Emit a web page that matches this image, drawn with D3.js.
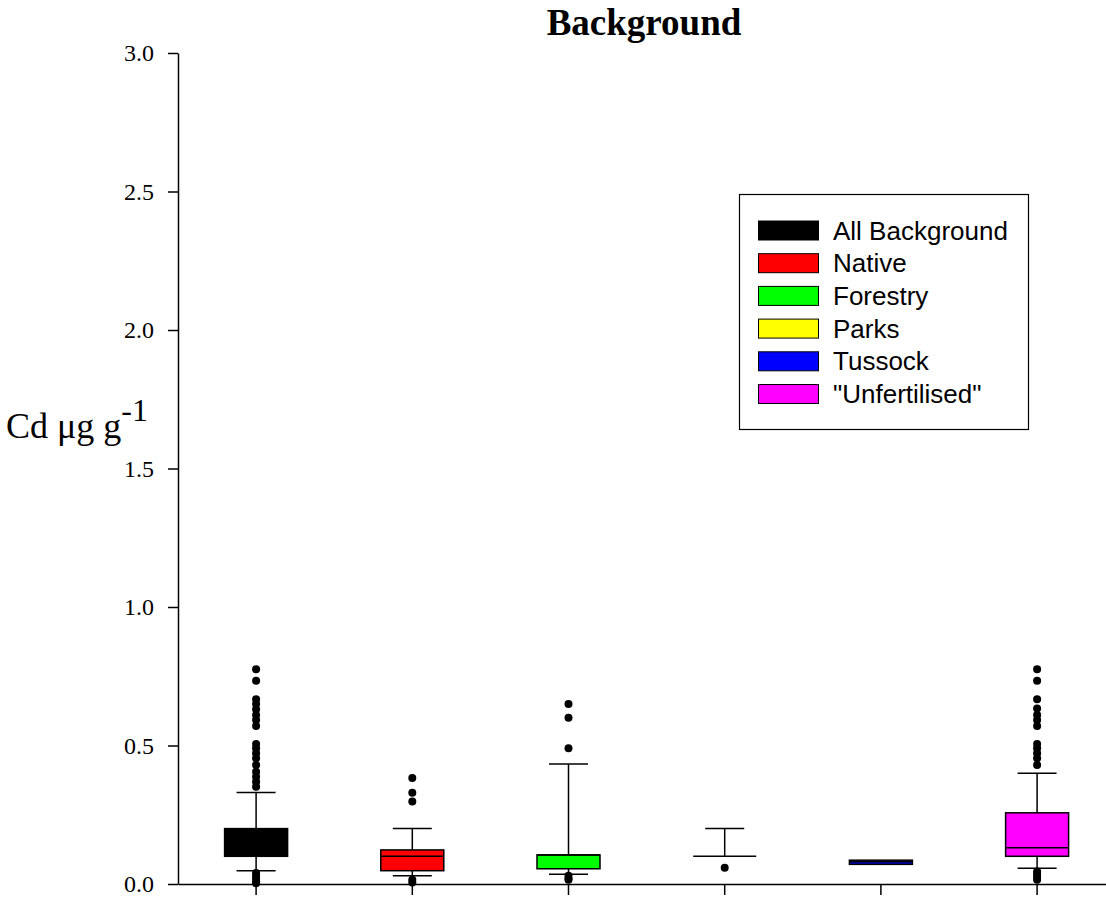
<!DOCTYPE html>
<html>
<head>
<meta charset="utf-8">
<title>Background Cd box plot</title>
<script src="https://cdn.jsdelivr.net/npm/d3@7"></script>
<style>
  body { margin: 0; background: #fff; }
  .axis text { font-family: "Liberation Serif", "Times New Roman", serif; font-size: 24px; fill: #000; }
  .axis path, .axis line { stroke: #000; stroke-width: 1.5px; }
  .legend text { font-family: "Liberation Sans", Arial, sans-serif; font-size: 26px; }
</style>
</head>
<body>
<svg id="chart" width="1106" height="897"></svg>
<script>
// categories and colours
var categories = ["All Background", "Native", "Forestry", "Parks", "Tussock", "\"Unfertilised\""];
var colors = ["#000000", "#ff0000", "#00ff00", "#ffff00", "#0000ff", "#ff00ff"];

// box statistics (Cd ug/g)
var q1 =      [0.10, 0.048, 0.055, 0.10, 0.071, 0.10];
var median =  [0.14, 0.10,  0.105, 0.10, 0.08,  0.131];
var q3 =      [0.20, 0.123, 0.105, 0.10, 0.086, 0.257];
var whiskLo = [0.048, 0.03, 0.035, 0.10, 0.071, 0.057];
var whiskHi = [0.33, 0.20,  0.433, 0.20, 0.086, 0.40];

var outliers = [
  [0.775, 0.734, 0.667, 0.650, 0.631, 0.610, 0.592, 0.570, 0.505, 0.490, 0.472, 0.454, 0.430, 0.405, 0.387, 0.369, 0.351,
   0.04, 0.03, 0.02, 0.01, 0.003],
  [0.383, 0.329, 0.298, 0.015, 0.005],
  [0.65, 0.60, 0.49, 0.03, 0.02, 0.015],
  [0.059],
  [],
  [0.775, 0.734, 0.667, 0.634, 0.610, 0.592, 0.570, 0.505, 0.490, 0.472, 0.454, 0.430,
   0.045, 0.035, 0.025, 0.015]
];

var yTicks = [0, 0.5, 1.0, 1.5, 2.0, 2.5, 3.0];

var svg = d3.select("#chart");
var plotLeft = 178, plotBottom = 884, plotTop = 53;

var x = d3.scaleBand().domain(categories).range([plotLeft, plotLeft + 6 * 156.2]).paddingInner(0).paddingOuter(0);
var y = d3.scaleLinear().domain([0, 3]).range([plotBottom, plotTop]);
var boxW = 63, capW = 39;

// y axis
svg.append("g").attr("class", "axis")
  .attr("transform", "translate(" + plotLeft + ",0)")
  .call(d3.axisLeft(y).tickValues(yTicks).tickFormat(d3.format(".1f")).tickSize(10).tickSizeOuter(0).tickPadding(14));

// x axis
svg.append("g").attr("class", "axis")
  .attr("transform", "translate(0," + plotBottom + ")")
  .call(d3.axisBottom(x).tickSize(11).tickSizeOuter(0).tickFormat(""));

// boxes
var g = svg.append("g");
categories.forEach(function (c, i) {
  var cx = x(c) + x.bandwidth() / 2;
  // whiskers
  if (whiskHi[i] > q3[i]) {
    g.append("line").attr("x1", cx).attr("x2", cx).attr("y1", y(q3[i])).attr("y2", y(whiskHi[i]))
      .attr("stroke", "#000").attr("stroke-width", 1.5);
    g.append("line").attr("x1", cx - capW / 2).attr("x2", cx + capW / 2).attr("y1", y(whiskHi[i])).attr("y2", y(whiskHi[i]))
      .attr("stroke", "#000").attr("stroke-width", 1.5);
  }
  if (whiskLo[i] < q1[i]) {
    g.append("line").attr("x1", cx).attr("x2", cx).attr("y1", y(q1[i])).attr("y2", y(whiskLo[i]))
      .attr("stroke", "#000").attr("stroke-width", 1.5);
    g.append("line").attr("x1", cx - capW / 2).attr("x2", cx + capW / 2).attr("y1", y(whiskLo[i])).attr("y2", y(whiskLo[i]))
      .attr("stroke", "#000").attr("stroke-width", 1.5);
  }
  g.append("rect").attr("x", cx - boxW / 2).attr("width", boxW)
    .attr("y", y(q3[i])).attr("height", y(q1[i]) - y(q3[i]))
    .attr("fill", colors[i]).attr("stroke", "#000").attr("stroke-width", 1.5);
  g.append("line").attr("x1", cx - boxW / 2).attr("x2", cx + boxW / 2).attr("y1", y(median[i])).attr("y2", y(median[i]))
    .attr("stroke", "#000").attr("stroke-width", 1.5);
  g.selectAll(null).data(outliers[i]).enter().append("circle")
    .attr("cx", cx).attr("cy", function (d) { return y(d); }).attr("r", 4).attr("fill", "#000");
});

// title
svg.append("text").attr("x", 644).attr("y", 35).attr("text-anchor", "middle")
  .style("font-family", "'Liberation Serif', 'Times New Roman', serif").style("font-weight", "bold").style("font-size", "37px")
  .text("Background");

// y label
var yl = svg.append("text").attr("x", 6).attr("y", 438)
  .style("font-family", "'Liberation Serif', 'Times New Roman', serif").style("font-size", "36px");
yl.append("tspan").text("Cd \u03bcg g");
yl.append("tspan").attr("dy", -17).style("font-size", "32px").text("-1");

// legend
var lg = svg.append("g").attr("class", "legend");
lg.append("rect").attr("x", 739.5).attr("y", 194.5).attr("width", 289).attr("height", 235)
  .attr("fill", "#fff").attr("stroke", "#000").attr("stroke-width", 1.2);
categories.forEach(function (c, i) {
  var ry = 230.5 + i * 32.7;
  lg.append("rect").attr("x", 758.5).attr("y", ry - 9.5).attr("width", 60).attr("height", 19)
    .attr("fill", colors[i]).attr("stroke", "#000").attr("stroke-width", 1);
  lg.append("text").attr("x", 833).attr("y", ry + 9).text(c);
});
</script>
</body>
</html>
